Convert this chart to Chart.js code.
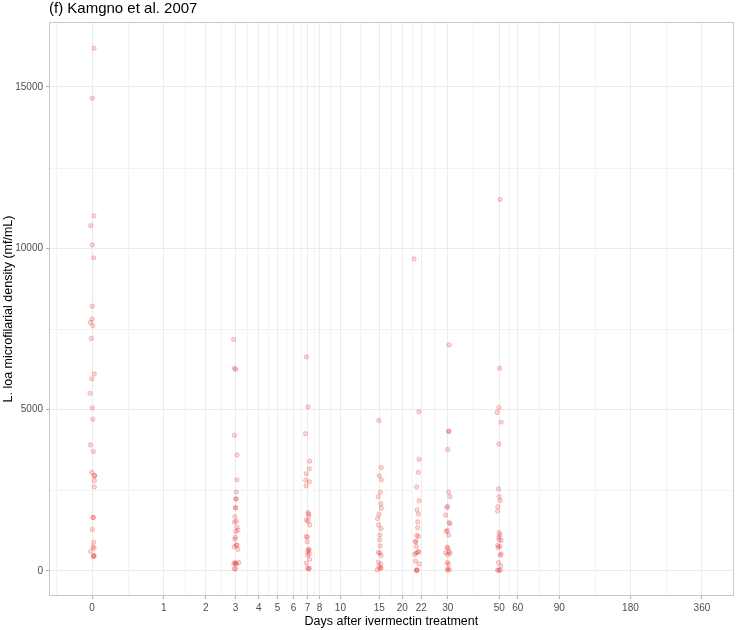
<!DOCTYPE html>
<html>
<head>
<meta charset="utf-8">
<script src="https://cdn.jsdelivr.net/npm/chart.js@4/dist/chart.umd.min.js"></script>
<style>
  html, body { margin: 0; padding: 0; background: #ffffff; }
  #wrap { width: 737px; height: 630px; position: relative; }
</style>
</head>
<body>
<div id="wrap"><canvas id="c" width="737" height="630"></canvas></div>
<script>
// ---------- data ----------
const chartTitle = "(f) Kamgno et al. 2007";
const xTitle = "Days after ivermectin treatment";
const yTitle = "L. loa microfilarial density (mf/mL)";

// x-axis breaks (days, where the grid line sits) and their labels
const xTickBreaks = [0, 1, 2, 3, 4, 5, 6, 7, 8, 10, 15, 19, 23, 30, 50, 60, 90, 180, 360];
const xTickLabels = ["0", "1", "2", "3", "4", "5", "6", "7", "8", "10", "15", "20", "22", "30", "50", "60", "90", "180", "360"];
const yTickValues = [0, 5000, 10000, 15000];

// jittered days and densities, per follow-up day
const day0X = [0.019, 0.003, 0.019, -0.013, 0.003, 0.016, 0.003, 0, -0.016, 0.007, -0.007, 0.022, -0.003, -0.019, 0.003, 0.007, -0.016, 0.013, -0.003, 0.026, 0.022, 0.022, 0.022, 0.010, 0.012, 0.003, 0.016, 0.010, 0.019, -0.013, 0.016, 0.020, 0.012];
const day0Y = [16200, 14650, 11000, 10700, 10100, 9700, 8200, 7800, 7700, 7600, 7200, 6100, 5950, 5500, 5050, 4700, 3900, 3700, 3050, 2950, 2950, 2800, 2600, 1650, 1660, 1280, 890, 750, 700, 600, 460, 480, 440];

const day3X = [2.92, 2.95, 3.0, 2.95, 3.05, 3.05, 3.03, 3.01, 3.02, 3.0, 2.99, 2.97, 2.95, 3.03, 3.05, 3.0, 3.09, 2.99, 2.97, 3.05, 3.03, 2.95, 3.09, 2.97, 2.93, 3.03, 3.12, 2.95, 3.0, 3.0];
const day3Y = [7170, 6280, 6240, 4200, 3590, 2820, 2440, 2230, 2230, 1950, 1960, 1680, 1510, 1540, 1360, 1220, 1260, 1045, 980, 800, 790, 750, 670, 257, 217, 217, 257, 62, 62, 230];

const day7X = [6.92, 7.05, 6.85, 7.18, 7.15, 6.92, 6.87, 7.15, 6.9, 7.05, 7.1, 7.1, 6.92, 7.05, 7.18, 6.9, 7.0, 6.98, 7.08, 7.13, 7.05, 7.0, 7.15, 7.18, 6.92, 7.0, 7.1, 7.15];
const day7Y = [6630, 5080, 4250, 3400, 3160, 3010, 2810, 2760, 2630, 1810, 1760, 1680, 1570, 1540, 1420, 1060, 1045, 900, 670, 650, 600, 490, 520, 360, 240, 84, 53, 84];

const day15X = [14.95, 15.3, 15.0, 15.35, 15.2, 14.85, 15.26, 15.35, 14.95, 14.74, 14.9, 15.3, 15.1, 15.05, 15.15, 14.9, 15.3, 15.1, 14.85, 15.26, 15.0, 14.7, 15.15, 15.3];
const day15Y = [4660, 3200, 2950, 2820, 2440, 2300, 2080, 1940, 1750, 1620, 1420, 1310, 1110, 960, 775, 570, 475, 550, 270, 210, 135, 31, 71, 84];

const day22X = [21.4, 22.45, 22.5, 22.35, 22.0, 22.5, 22.07, 22.35, 22.2, 22.2, 22.0, 22.35, 21.7, 21.78, 21.9, 22.2, 21.85, 22.45, 21.55, 21.7, 22.5, 21.95, 22.0, 22.05];
const day22Y = [9670, 4930, 3460, 3050, 2600, 2170, 1890, 1760, 1520, 1340, 1095, 1065, 920, 890, 750, 580, 550, 590, 505, 300, 217, 10, 20, 30];

const day30X = [30.4, 30.3, 30.35, 30.0, 30.3, 30.7, 30.0, 29.7, 29.4, 30.4, 30.7, 29.9, 29.6, 30.3, 29.8, 30.1, 29.4, 30.4, 30.7, 30.0, 29.9, 30.2, 30.1, 30.5, 29.9];
const day30Y = [7000, 4320, 4330, 3760, 2440, 2300, 2000, 1960, 1730, 1500, 1460, 1260, 1220, 1110, 735, 700, 560, 600, 540, 500, 257, 217, 71, 31, 22];

const day50X = [50.45, 50.15, 49.8, 48.97, 50.93, 49.8, 49.65, 49.95, 50.45, 49.3, 49.17, 49.95, 50.3, 49.8, 50.93, 49.95, 49.3, 50.3, 49.46, 50.45, 50.93, 49.65, 50.8, 49.17, 50.45, 49.8];
const day50Y = [11510, 6280, 5060, 4910, 4610, 3930, 2540, 2300, 2180, 1990, 1850, 1190, 1115, 1045, 940, 960, 785, 755, 720, 485, 520, 257, 155, 20, 20, 20];

// ---------- build ----------
const tf = d => Math.log2(d + 1);   // axis transform: log2(day + 1)
const groupsX = [day0X, day3X, day7X, day15X, day22X, day30X, day50X];
const groupsY = [day0Y, day3Y, day7Y, day15Y, day22Y, day30Y, day50Y];
const points = [];
groupsX.forEach((xs, g) => xs.forEach((x, i) => points.push({ x: tf(x), y: groupsY[g][i] })));

const FONT = "'Liberation Sans', Arial, Helvetica, sans-serif";
const majorX = xTickBreaks.map(tf);
const minorX = [];
for (let i = -1; i < majorX.length; i++) {
  const a = i < 0 ? majorX[0] - (majorX[1] - majorX[0]) : majorX[i];
  const b = i + 1 >= majorX.length ? majorX[i] + (majorX[i] - majorX[i - 1]) : majorX[i + 1];
  minorX.push((a + b) / 2);
}
const minorY = [-2500, 2500, 7500, 12500, 17500];

const panelPlugin = {
  id: 'panel',
  beforeDraw(chart) {
    const { ctx, chartArea: a, scales: { x, y } } = chart;
    ctx.save();
    ctx.fillStyle = '#ffffff';
    ctx.fillRect(0, 0, chart.width, chart.height);
    ctx.beginPath();
    ctx.rect(a.left, a.top, a.right - a.left, a.bottom - a.top);
    ctx.clip();
    ctx.strokeStyle = '#f3f3f3';
    ctx.lineWidth = 1;
    minorX.forEach(v => {
      const p = Math.round(x.getPixelForValue(v)) + 0.5;
      ctx.beginPath(); ctx.moveTo(p, a.top); ctx.lineTo(p, a.bottom); ctx.stroke();
    });
    minorY.forEach(v => {
      const p = Math.round(y.getPixelForValue(v)) + 0.5;
      ctx.beginPath(); ctx.moveTo(a.left, p); ctx.lineTo(a.right, p); ctx.stroke();
    });
    ctx.restore();
  },
  afterDraw(chart) {
    const { ctx, chartArea: a } = chart;
    ctx.save();
    ctx.strokeStyle = '#c8c8c8';
    ctx.lineWidth = 1;
    ctx.strokeRect(Math.round(a.left) + 0.5, Math.round(a.top) + 0.5,
      Math.round(a.right - a.left) - 1, Math.round(a.bottom - a.top) - 1);
    ctx.fillStyle = '#000000';
    ctx.font = '15px ' + FONT;
    ctx.textAlign = 'left';
    ctx.textBaseline = 'alphabetic';
    ctx.fillText(chartTitle, 49, 12.5);
    ctx.restore();
  }
};

new Chart(document.getElementById('c'), {
  type: 'scatter',
  data: {
    datasets: [{
      data: points,
      pointRadius: 2.2,
      pointHoverRadius: 2.2,
      borderWidth: 1,
      backgroundColor: 'rgba(228, 26, 28, 0.18)',
      borderColor: 'rgba(228, 26, 28, 0.22)'
    }]
  },
  options: {
    responsive: false,
    animation: false,
    events: [],
    layout: { padding: { top: 22, right: 1, left: 0, bottom: 0 } },
    plugins: { legend: { display: false }, tooltip: { enabled: false }, title: { display: false } },
    scales: {
      x: {
        type: 'linear',
        min: -0.6,
        max: 8.94,
        afterBuildTicks: s => { s.ticks = majorX.map(v => ({ value: v })); },
        afterFit: s => { s.height = 34; },
        grid: { color: '#ebebeb', lineWidth: 1, tickLength: 3, tickColor: '#b3b3b3', drawTicks: true },
        border: { display: false },
        ticks: {
          autoSkip: false, maxRotation: 0, padding: 3,
          color: '#4d4d4d', font: { family: FONT, size: 10 },
          callback: (v, i) => xTickLabels[i]
        },
        title: { display: true, text: xTitle, color: '#000000', font: { family: FONT, size: 12.5 }, padding: { top: 0, bottom: 1 } }
      },
      y: {
        type: 'linear',
        min: -780,
        max: 17010,
        afterBuildTicks: s => { s.ticks = yTickValues.map(v => ({ value: v })); },
        afterFit: s => { s.width = 49; },
        grid: { color: '#ebebeb', lineWidth: 1, tickLength: 3, tickColor: '#b3b3b3' },
        border: { display: false },
        ticks: {
          padding: 3, color: '#4d4d4d', font: { family: FONT, size: 10 },
          callback: v => String(v)
        },
        title: { display: true, text: yTitle, color: '#000000', font: { family: FONT, size: 12.5 }, padding: { top: 1, bottom: 0 } }
      }
    }
  },
  plugins: [panelPlugin]
});
</script>
</body>
</html>
